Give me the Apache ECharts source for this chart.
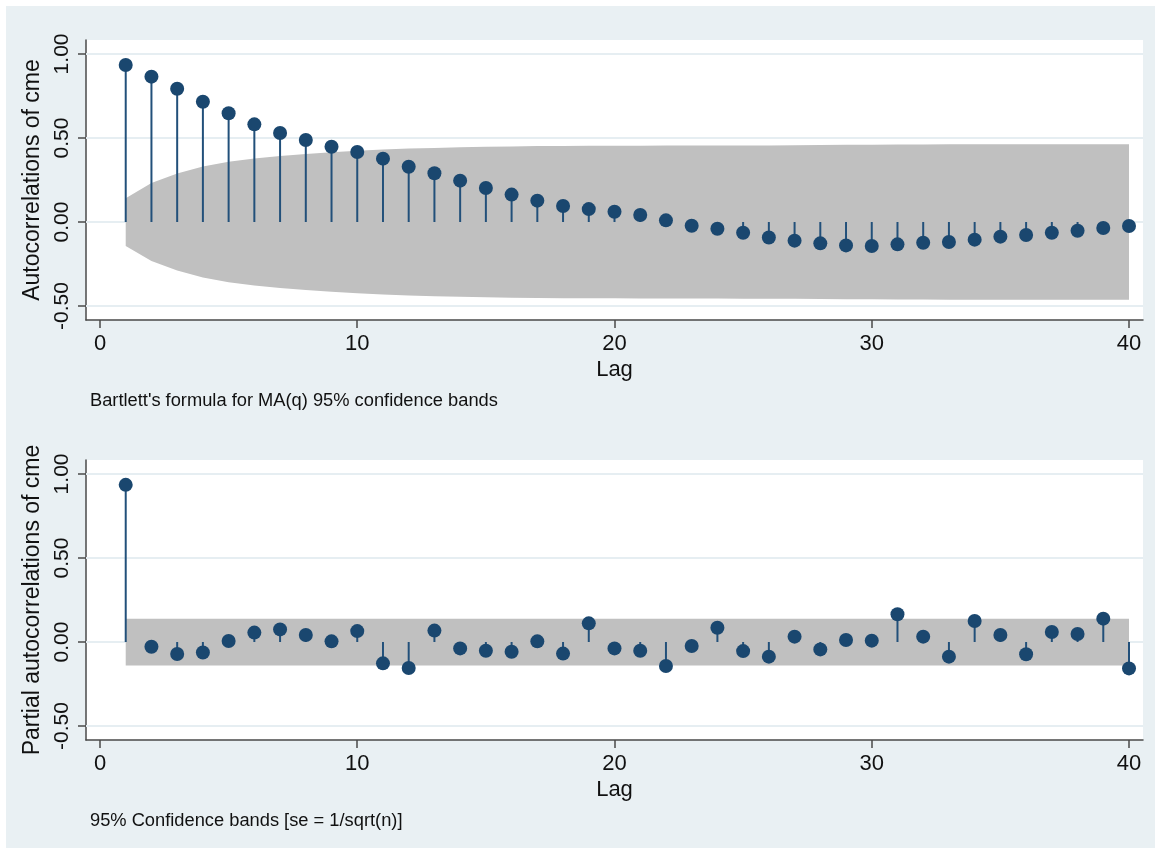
<!DOCTYPE html>
<html>
<head>
<meta charset="utf-8">
<script src="https://cdn.jsdelivr.net/npm/echarts@6/dist/echarts.min.js"></script>
<style>
html,body{margin:0;padding:0;background:#fff;}
#chart{width:1155px;height:848px;}
</style>
</head>
<body>
<div id="chart"></div>
<script>
// ---------- data ----------
const lags = [1,2,3,4,5,6,7,8,9,10,11,12,13,14,15,16,17,18,19,20,21,22,23,24,25,26,27,28,29,30,31,32,33,34,35,36,37,38,39,40];
const acf = [0.934,0.865,0.793,0.716,0.647,0.581,0.530,0.488,0.448,0.417,0.377,0.329,0.290,0.246,0.202,0.163,0.127,0.095,0.077,0.061,0.042,0.010,-0.022,-0.040,-0.064,-0.092,-0.111,-0.127,-0.139,-0.143,-0.133,-0.123,-0.119,-0.105,-0.087,-0.077,-0.064,-0.052,-0.036,-0.024];
const acfBandUpper = [0.141,0.232,0.288,0.330,0.358,0.378,0.393,0.405,0.415,0.424,0.432,0.437,0.441,0.445,0.448,0.450,0.452,0.453,0.4535,0.454,0.4545,0.455,0.455,0.455,0.456,0.456,0.457,0.458,0.459,0.460,0.461,0.461,0.462,0.462,0.462,0.462,0.4625,0.4625,0.4625,0.4625];
const acfBandLower = [-0.143,-0.232,-0.288,-0.330,-0.358,-0.378,-0.393,-0.405,-0.415,-0.424,-0.432,-0.437,-0.441,-0.445,-0.448,-0.450,-0.452,-0.453,-0.4535,-0.454,-0.4545,-0.455,-0.455,-0.455,-0.456,-0.456,-0.457,-0.458,-0.459,-0.460,-0.461,-0.461,-0.462,-0.462,-0.462,-0.462,-0.4625,-0.4625,-0.4625,-0.4625];
const pacf = [0.935,-0.028,-0.071,-0.062,0.006,0.056,0.075,0.042,0.004,0.065,-0.127,-0.155,0.068,-0.038,-0.052,-0.058,0.004,-0.069,0.111,-0.038,-0.052,-0.143,-0.024,0.085,-0.054,-0.087,0.032,-0.044,0.012,0.008,0.165,0.032,-0.087,0.125,0.042,-0.073,0.060,0.048,0.139,-0.157];
const pacfBandUpper = [0.138,0.138,0.138,0.138,0.138,0.138,0.138,0.138,0.138,0.138,0.138,0.138,0.138,0.138,0.138,0.138,0.138,0.138,0.138,0.138,0.138,0.138,0.138,0.138,0.138,0.138,0.138,0.138,0.138,0.138,0.138,0.138,0.138,0.138,0.138,0.138,0.138,0.138,0.138,0.138];
const pacfBandLower = [-0.140,-0.140,-0.140,-0.140,-0.140,-0.140,-0.140,-0.140,-0.140,-0.140,-0.140,-0.140,-0.140,-0.140,-0.140,-0.140,-0.140,-0.140,-0.140,-0.140,-0.140,-0.140,-0.140,-0.140,-0.140,-0.140,-0.140,-0.140,-0.140,-0.140,-0.140,-0.140,-0.140,-0.140,-0.140,-0.140,-0.140,-0.140,-0.140,-0.140];
const xTicks = [0,10,20,30,40];
const yTicks = [-0.5,0,0.5,1];
const yTitles = ['Autocorrelations of cme','Partial autocorrelations of cme'];
const xTitle = 'Lag';
const notes = ["Bartlett's formula for MA(q) 95% confidence bands","95% Confidence bands [se = 1/sqrt(n)]"];

// ---------- style ----------
const FONT = '"Liberation Sans", Arial, sans-serif';
const NAVY = '#1a476f';
const BAND = '#c0c0c0';
const AXIS = '#4a4a4a';
const GRIDC = '#e6eef2';
const BG = '#e9f0f3';

const chart = echarts.init(document.getElementById('chart'), null, {renderer:'canvas'});

function mkX(idx){
  return {
    type:'value', gridIndex:idx, min:-0.544, max:40.544,
    name:xTitle, nameLocation:'middle', nameGap:39,
    nameTextStyle:{fontFamily:FONT, fontSize:22, color:'#111'},
    axisLine:{show:true, onZero:false, lineStyle:{color:AXIS, width:1.5}},
    axisTick:{show:true, length:8, customValues:xTicks, lineStyle:{color:AXIS, width:1.5}},
    axisLabel:{customValues:xTicks, fontFamily:FONT, fontSize:22, color:'#111', margin:13},
    splitLine:{show:false}
  };
}
function mkY(idx){
  return {
    type:'value', gridIndex:idx, min:-0.583, max:1.083,
    name:yTitles[idx], nameLocation:'middle', nameGap:40,
    nameTextStyle:{fontFamily:FONT, fontSize:23, color:'#111'},
    axisLine:{show:true, onZero:false, lineStyle:{color:AXIS, width:1.5}},
    axisTick:{show:true, length:8, customValues:yTicks, lineStyle:{color:AXIS, width:1.5}},
    axisLabel:{customValues:yTicks, rotate:90, fontFamily:FONT, fontSize:21, color:'#111', margin:13,
      formatter:v=>v.toFixed(2)},
    splitLine:{show:false}
  };
}

function panelSeries(idx, vals, lo, hi){
  return [
    { // grid lines
      type:'line', xAxisIndex:idx, yAxisIndex:idx, data:[], z:1, silent:true,
      markLine:{silent:true, z:1, symbol:'none', label:{show:false},
        lineStyle:{color:GRIDC, width:2, type:'solid'},
        data: yTicks.map(v=>({yAxis:v}))}
    },
    { // confidence band polygon
      type:'custom', xAxisIndex:idx, yAxisIndex:idx, z:2, silent:true,
      data: lags.map((l,i)=>[l, lo[i], hi[i]]),
      renderItem:(params, api)=>{
        if (params.dataIndex !== 0) return null;
        const top = lags.map((l,i)=>api.coord([l, hi[i]]));
        const bot = lags.map((l,i)=>api.coord([l, lo[i]])).reverse();
        return {type:'polygon', shape:{points: top.concat(bot), smooth:0},
          style:{fill:BAND, stroke:null}};
      }
    },
    { // stems
      type:'custom', xAxisIndex:idx, yAxisIndex:idx, z:3, silent:true,
      data: lags.map((l,i)=>[l, vals[i]]),
      renderItem:(params, api)=>{
        const p0 = api.coord([api.value(0), 0]);
        const p1 = api.coord([api.value(0), api.value(1)]);
        return {type:'line', shape:{x1:p0[0], y1:p0[1], x2:p1[0], y2:p1[1]},
          style:{stroke:'#22507a', lineWidth:2}};
      }
    },
    { // markers
      type:'scatter', xAxisIndex:idx, yAxisIndex:idx, z:4, silent:true,
      data: lags.map((l,i)=>[l, vals[i]]), symbol:'circle', symbolSize:14,
      itemStyle:{color:NAVY, opacity:1}
    }
  ];
}

const option = {
  backgroundColor:'#ffffff',
  animation:false,
  graphic:[
    {type:'rect', z:-10, silent:true, shape:{x:6, y:6, width:1149, height:842}, style:{fill:BG}},
    {type:'text', left:90, top:392, silent:true, style:{text:notes[0], font:'18.3px '+FONT, fill:'#111'}},
    {type:'text', left:90, top:812, silent:true, style:{text:notes[1], font:'18.3px '+FONT, fill:'#111'}}
  ],
  grid:[
    {left:86, top:40, width:1057, height:280, show:true, backgroundColor:'#ffffff', borderWidth:0, containLabel:false},
    {left:86, top:460, width:1057, height:280, show:true, backgroundColor:'#ffffff', borderWidth:0, containLabel:false}
  ],
  xAxis:[mkX(0), mkX(1)],
  yAxis:[mkY(0), mkY(1)],
  series:[].concat(
    panelSeries(0, acf, acfBandLower, acfBandUpper),
    panelSeries(1, pacf, pacfBandLower, pacfBandUpper)
  )
};
chart.setOption(option);
</script>
</body>
</html>
